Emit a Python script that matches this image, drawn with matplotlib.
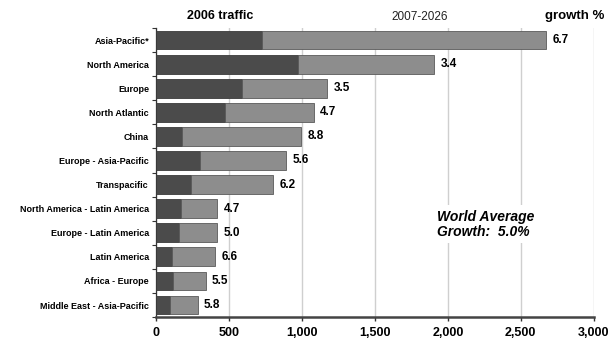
import matplotlib.pyplot as plt
import numpy as np

regions = ["Asia-Pacific*", "North America", "Europe", "North Atlantic", "China",
           "Europe - Asia-Pacific", "Transpacific", "North America - Latin America",
           "Europe - Latin America", "Latin America", "Africa - Europe",
           "Middle East - Asia-Pacific"]
traffic_2006 = [730, 975, 590, 470, 180, 300, 240, 170, 160, 110, 119, 96]
traffic_2026 = [2670, 1905, 1175, 1080, 992, 890, 800, 422, 418, 405, 340, 285]
growth = ["6.7", "3.4", "3.5", "4.7", "8.8", "5.6", "6.2", "4.7", "5.0", "6.6", "5.5", "5.8"]
xticks = [0, 500, 1000, 1500, 2000, 2500, 3000]

plt.rcParams['font.family'] = ['Liberation Sans', 'DejaVu Sans']

fig = plt.figure(figsize=(6.09, 3.41), dpi=100)
ax = fig.add_axes([0.256, 0.07, 0.719, 0.848])

y = np.arange(len(regions))
added = np.array(traffic_2026) - np.array(traffic_2006)
ax.barh(y, traffic_2006, height=0.78, color="#4b4b4b", edgecolor="#3a3a3a", linewidth=0.6, zorder=3)
ax.barh(y, added, left=traffic_2006, height=0.78, color="#8d8d8d", edgecolor="#5a5a5a",
        linewidth=0.6, zorder=3)

for yi, total, g in zip(y, traffic_2026, growth):
    ax.text(total + 45, yi, g, va="center", ha="left", fontsize=8.5, fontweight="bold")

ax.set_xlim(0, 3000)
ax.set_ylim(len(regions) - 0.5, -0.5)
ax.set_xticks(xticks)
ax.set_xticklabels([f"{v:,}" for v in xticks], fontsize=9, fontweight="bold")
ax.set_yticks(y)
ax.set_yticklabels(regions, fontsize=6.5, fontweight="bold")
ax.tick_params(axis="y", length=0, pad=5)
ax.set_yticks(np.arange(len(regions) + 1) - 0.5, minor=True)
ax.tick_params(axis="y", which="minor", length=3, width=0.8, direction="out", color="#333333")
ax.tick_params(axis="x", length=3, width=1, color="#333333", pad=4)
ax.xaxis.grid(True, color="#cfcfcf", linewidth=1, zorder=0)

for s in ["top", "right"]:
    ax.spines[s].set_visible(False)
ax.spines["left"].set_color("#333333")
ax.spines["left"].set_linewidth(0.9)
ax.spines["bottom"].set_color("#444444")
ax.spines["bottom"].set_linewidth(1.8)

fig.text(220 / 609, 1 - 16 / 341, "2006 traffic", ha="center", va="center",
         fontsize=9, fontweight="bold")
fig.text(420 / 609, 1 - 17 / 341, "2007-2026", ha="center", va="center",
         fontsize=8.5, color="#222222")
fig.text(575 / 609, 1 - 16 / 341, "growth %", ha="center", va="center",
         fontsize=9.5, fontweight="bold")

# world average note, left aligned over the gridlines
ax.text(1925, 7.65, "World Average\nGrowth:  5.0%", ha="left", va="center",
        fontsize=10, fontweight="bold", style="italic", linespacing=1.15,
        bbox=dict(facecolor="white", edgecolor="none", pad=3), zorder=4)

fig.savefig("out.png", dpi=100, facecolor="white")
